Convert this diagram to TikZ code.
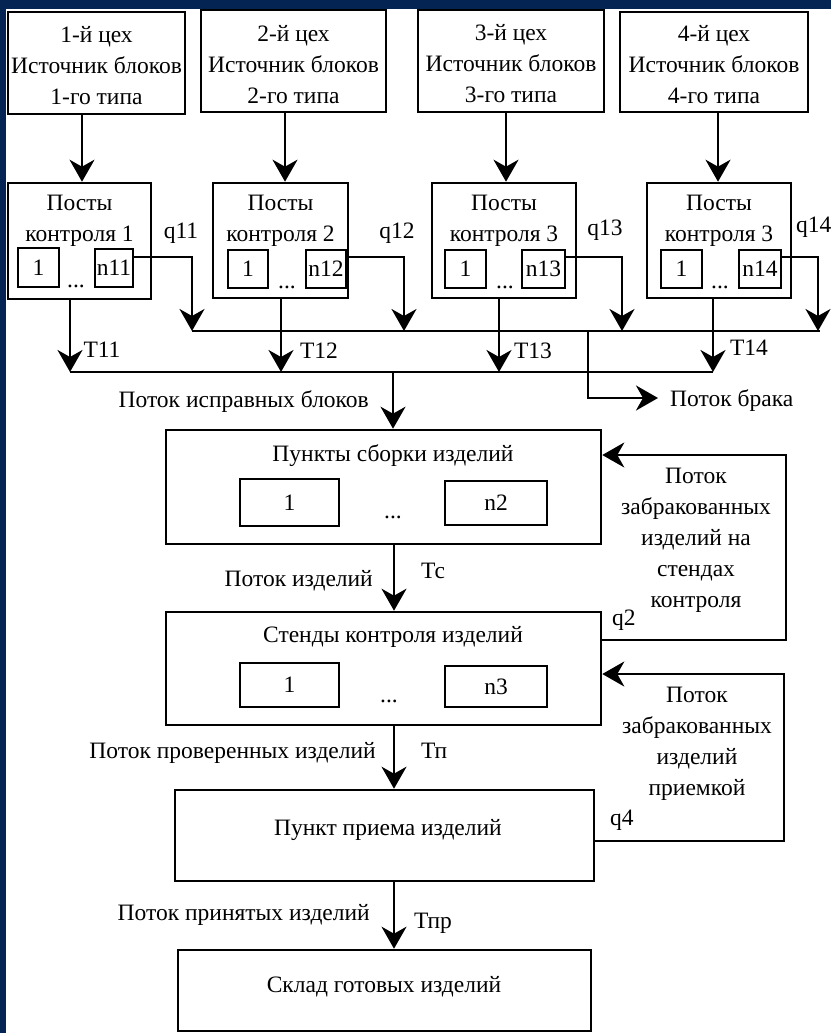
\documentclass[tikz,border=0pt]{standalone}
\usepackage{fontspec}
\setmainfont{Liberation Serif}
\usetikzlibrary{arrows.meta}
\definecolor{navy}{RGB}{4,36,84}
\newcommand{\mlines}[1]{\begin{tabular}[t]{@{}c@{}}#1\end{tabular}}
\tikzset{
  box/.style={draw, line width=2.6pt, inner sep=0pt, rectangle},
  ibox/.style={draw, line width=2.4pt, inner sep=0pt, rectangle},
  txt/.style={inner sep=0pt, anchor=base},
  arr/.style={line width=2.4pt, -{Stealth[length=22pt,width=25pt,inset=7pt]}},
  ln/.style={line width=2.4pt},
}
\begin{document}
\begin{tikzpicture}[x=1pt,y=-1pt, every node/.style={font=\fontsize{23.5}{31}\selectfont}]
\fill[navy] (0,0) rectangle (831,1033);
\fill[white] (6,9) rectangle (831,1033);
\useasboundingbox (0,0) rectangle (831,1033);

% workshop boxes
\node[box, minimum width=177pt, minimum height=102pt] (c1) at (96.5,63) {};
\node[box, minimum width=185pt, minimum height=102pt] (c2) at (293.5,61) {};
\node[box, minimum width=186pt, minimum height=102pt] (c3) at (511,61) {};
\node[box, minimum width=188pt, minimum height=100pt] (c4) at (714,62) {};
\node[txt] (c1t) at (96.5,43) {\mlines{1-й цех\\Источник блоков\\1-го типа}};
\node[txt] (c2t) at (293.5,42) {\mlines{2-й цех\\Источник блоков\\2-го типа}};
\node[txt] (c3t) at (511,41) {\mlines{3-й цех\\Источник блоков\\3-го типа}};
\node[txt] (c4t) at (714,42) {\mlines{4-й цех\\Источник блоков\\4-го типа}};

% control posts
\node[box, minimum width=143pt, minimum height=116pt] (p1) at (79.5,241) {};
\node[box, minimum width=135pt, minimum height=115pt] (p2) at (280.5,240.5) {};
\node[box, minimum width=144pt, minimum height=115pt] (p3) at (504,240.5) {};
\node[box, minimum width=144pt, minimum height=115pt] (p4) at (719,240.5) {};
\node[txt] (p1t) at (79.5,210) {\mlines{Посты\\контроля 1}};
\node[txt] (p2t) at (280.5,210) {\mlines{Посты\\контроля 2}};
\node[txt] (p3t) at (504,210) {\mlines{Посты\\контроля 3}};
\node[txt] (p4t) at (719,210) {\mlines{Посты\\контроля 3}};
\node[ibox, minimum width=41pt, minimum height=39pt] (p1a) at (38.5,267.5) {1};
\node[ibox, minimum width=38pt, minimum height=38pt] (p1n) at (114,268) {n11};
\node[ibox, minimum width=40pt, minimum height=38pt] (p2a) at (248,269) {1};
\node[ibox, minimum width=40pt, minimum height=38pt] (p2n) at (326,269) {n12};
\node[ibox, minimum width=41pt, minimum height=38pt] (p3a) at (465.5,269) {1};
\node[ibox, minimum width=43pt, minimum height=38pt] (p3n) at (543.5,269) {n13};
\node[ibox, minimum width=41pt, minimum height=38pt] (p4a) at (681.5,269) {1};
\node[ibox, minimum width=42pt, minimum height=38pt] (p4n) at (760,269) {n14};
\node[txt] (p1d) at (76,287) {...};
\node[txt] (p2d) at (287,288) {...};
\node[txt] (p3d) at (505,288) {...};
\node[txt] (p4d) at (720,288) {...};

% arrows workshop -> posts
\coordinate (x1) at (82,0);
\coordinate (x2) at (285,0);
\coordinate (x3) at (506,0);
\coordinate (x4) at (718,0);
\draw[arr] (c1.south -| x1) -- (p1.north -| x1);
\draw[arr] (c2.south -| x2) -- (p2.north -| x2);
\draw[arr] (c3.south -| x3) -- (p3.north -| x3);
\draw[arr] (c4.south -| x4) -- (p4.north -| x4);

% reject bus
\coordinate (ubL) at (192,331);
\coordinate (ubR) at (820,331);
\draw[ln] (ubL) -- (ubR);
\coordinate (q1) at (192,257);
\coordinate (q2) at (404,257);
\coordinate (q3) at (622,257);
\coordinate (q4) at (818,257);
\draw[arr] (p1n.east |- q1) -- (q1) -- (q1 |- ubL);
\draw[arr] (p2n.east |- q2) -- (q2) -- (q2 |- ubL);
\draw[arr] (p3n.east |- q3) -- (q3) -- (q3 |- ubL);
\draw[arr] (p4n.east |- q4) -- (q4) -- (q4 |- ubL);
\node[txt] (q11) at (181,238) {q11};
\node[txt] (q12) at (397,238) {q12};
\node[txt] (q13) at (605,235) {q13};
\node[txt, anchor=base west] (q14) at (796,232) {q14};

% good-blocks bus
\coordinate (t1) at (70,372);
\coordinate (t2) at (281,372);
\coordinate (t3) at (499,372);
\coordinate (t4) at (713,372);
\draw[arr] (p1.south -| t1) -- (t1);
\draw[arr] (p2.south -| t2) -- (t2);
\draw[arr] (p3.south -| t3) -- (t3);
\draw[arr] (p4.south -| t4) -- (t4);
\draw[ln] (t1) -- (t4);
\node[txt] (T11) at (102,357) {Т11};
\node[txt] (T12) at (319,358) {Т12};
\node[txt] (T13) at (533,358) {Т13};
\node[txt] (T14) at (749,355) {Т14};

% reject output
\node[txt, anchor=base west] (brak) at (670,406) {Поток брака};
\coordinate (rj) at (588,331);
\coordinate (rj2) at (588,398);
\draw[arr, shorten >=12pt] (rj) -- (rj2) -- (rj2 -| brak.west);

% assembly
\node[box, minimum width=435pt, minimum height=114pt] (asm) at (383.5,487) {};
\node[txt] (asmt) at (393,461) {Пункты сборки изделий};
\node[ibox, minimum width=99pt, minimum height=47pt] (asm1) at (289.5,502.5) {1};
\node[ibox, minimum width=102pt, minimum height=44pt] (asmn) at (496,503) {n2};
\node[txt] (asmd) at (393,518) {...};
\coordinate (lb) at (393,372);
\draw[arr] (lb) -- (lb |- asm.north);
\node[txt, anchor=base east] (good) at (369,407) {Поток исправных блоков};

% stands
\node[box, minimum width=435pt, minimum height=113pt] (st) at (383.5,668.5) {};
\node[txt] (stt) at (393,642) {Стенды контроля изделий};
\node[ibox, minimum width=99pt, minimum height=44pt] (st1) at (289.5,685) {1};
\node[ibox, minimum width=102pt, minimum height=41pt] (stn) at (496,686.5) {n3};
\node[txt] (std) at (389,702) {...};

% acceptance
\node[box, minimum width=419pt, minimum height=91pt] (pr) at (384.5,835.5) {};
\node[txt] (prt) at (388,835) {Пункт приема изделий};

% warehouse
\node[box, minimum width=413pt, minimum height=81pt] (sk) at (384.5,990.5) {};
\node[txt] (skt) at (384,992) {Склад готовых изделий};

% main vertical flow
\coordinate (v) at (394,0);
\draw[arr] (asm.south -| v) -- (st.north -| v);
\draw[arr] (st.south -| v) -- (pr.north -| v);
\draw[arr] (pr.south -| v) -- (sk.north -| v);
\node[txt, anchor=base east] (l1) at (373,586) {Поток изделий};
\node[txt, anchor=base west] (tc) at (421,578) {Тс};
\node[txt, anchor=base east] (l2) at (376,758) {Поток проверенных изделий};
\node[txt, anchor=base west] (tp) at (421,758) {Тп};
\node[txt, anchor=base east] (l3) at (370,920) {Поток принятых изделий};
\node[txt, anchor=base west] (tpr) at (414,928) {Тпр};

% feedback loops
\coordinate (f1a) at (786,640);
\coordinate (f1b) at (786,455);
\draw[arr] (st.east |- f1a) -- (f1a) -- (f1b) -- (asm.east |- f1b);
\node[txt] (f1t) at (696,483) {\mlines{Поток\\забракованных\\изделий на\\стендах\\контроля}};
\node[txt, anchor=base west] (lq2) at (612,625) {q2};
\coordinate (f2a) at (784,841);
\coordinate (f2b) at (784,674);
\draw[arr] (pr.east |- f2a) -- (f2a) -- (f2b) -- (st.east |- f2b);
\node[txt] (f2t) at (697,702) {\mlines{Поток\\забракованных\\изделий\\приемкой}};
\node[txt, anchor=base west] (lq4) at (610,825) {q4};
\end{tikzpicture}
\end{document}
